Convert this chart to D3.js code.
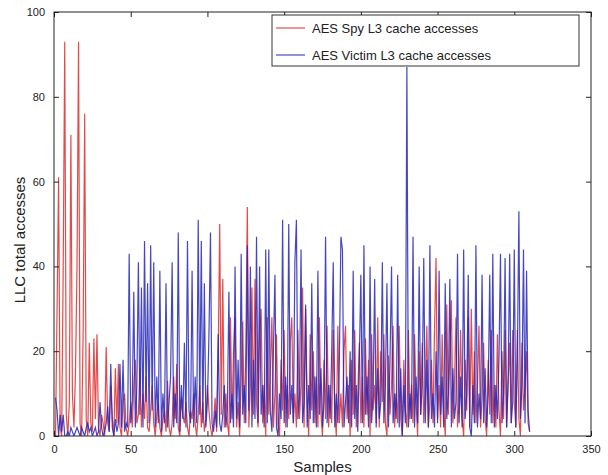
<!DOCTYPE html>
<html>
<head>
<meta charset="utf-8">
<script src="https://cdn.jsdelivr.net/npm/d3@7"></script>
<style>
  html, body { margin: 0; padding: 0; background: #fff; }
  svg { display: block; font-family: "Liberation Sans", Arial, Helvetica, sans-serif; }
</style>
</head>
<body>
<svg id="chart" width="608" height="475"></svg>
<script>
// ---- Data ----
const seriesNames = ["AES Spy L3 cache accesses", "AES Victim L3 cache accesses"];
const xTicks = [0, 50, 100, 150, 200, 250, 300, 350];
const yTicks = [0, 20, 40, 60, 80, 100];
const xLabel = "Samples";
const yLabel = "LLC total accesses";

const spyValues = [
  0,30,61,2,0,40,93,5,0,8,
  71,10,2,15,40,93,3,0,25,76,
  4,0,22,3,1,23,4,24,2,0,
  5,3,0,21,3,1,12,4,0,16,
  3,17,2,0,8,10,2,0,3,8,
  2,12,18,3,5,16,2,10,4,14,
  2,1,6,12,3,0,5,8,2,0,
  4,6,1,13,2,0,3,14,4,17,
  2,0,9,5,3,8,2,0,6,4,
  10,3,0,5,12,2,8,1,4,12,
  6,2,0,3,9,1,18,50,5,37,
  2,10,3,0,28,4,20,28,2,8,
  0,14,27,3,20,54,2,12,35,5,
  37,8,2,25,30,3,12,0,28,5,
  15,28,2,10,24,3,0,18,6,25,
  2,12,4,22,28,3,10,2,25,4,
  12,35,2,30,8,0,24,6,20,3,
  14,2,28,5,0,18,4,26,2,12,
  3,25,6,0,26,3,10,2,20,26,
  4,12,0,18,5,25,2,10,22,3,
  14,2,23,5,18,0,24,6,12,3,
  28,2,20,8,24,3,0,19,5,12,
  26,2,10,3,26,4,0,18,6,2,
  25,4,12,3,24,8,0,20,5,22,
  3,12,26,2,8,18,3,25,42,4,
  12,2,24,6,0,31,5,20,32,3,
  12,28,2,8,25,4,0,18,6,28,
  2,30,5,20,3,12,26,2,9,22,
  4,0,18,5,25,3,12,2,24,6,
  0,20,4,25,2,12,22,3,25,8,
  2,25,4,0,22,6,12,20,3,1
];

const victimValues = [
  9,6,0,5,1,5,0,0,1,0,
  2,1,0,1,2,1,0,2,1,0,
  2,3,1,2,0,1,2,0,1,8,
  2,0,1,3,7,1,17,2,0,4,
  1,3,17,2,18,1,3,2,43,3,
  8,34,2,12,41,5,35,2,46,8,
  36,3,45,6,41,2,14,3,39,1,
  10,3,36,2,8,14,41,2,10,3,
  48,1,12,4,22,2,46,6,3,39,
  2,14,3,51,5,46,3,36,2,8,
  24,48,3,1,6,2,24,3,1,5,
  12,2,6,34,3,10,2,40,4,18,
  2,43,5,12,3,45,6,40,2,18,
  4,47,3,40,5,12,2,44,3,44,
  6,1,20,38,2,0,10,4,51,3,
  14,2,50,5,12,3,41,51,4,10,
  44,3,8,31,2,12,4,36,3,14,
  2,39,5,16,2,8,47,3,12,4,
  20,41,2,10,3,18,47,44,2,8,
  14,3,20,2,39,4,12,1,18,38,
  3,45,5,14,2,40,3,10,37,2,
  16,4,8,41,3,12,36,2,18,40,
  3,10,4,38,2,16,0,12,3,87,
  2,10,4,47,2,14,3,40,5,12,
  42,3,18,2,45,4,10,2,20,3,
  39,5,14,2,36,4,10,37,2,16,
  4,8,43,3,14,2,44,4,10,38,
  2,0,12,3,45,2,10,4,38,3,
  16,2,10,38,3,43,2,12,4,18,
  43,3,10,42,2,14,43,3,8,44,
  2,18,53,4,12,44,3,39,6,1
];

const seriesColors = ["#e02a2a", "#2626b8"];

// ---- Layout ----
const svg = d3.select("#chart");
const mLeft = 54, mRight = 591, mTop = 12, mBottom = 436;

const x = d3.scaleLinear().domain([0, 350]).range([mLeft, mRight]);
const y = d3.scaleLinear().domain([0, 100]).range([mBottom, mTop]);

svg.append("rect").attr("x", 0).attr("y", 0).attr("width", 608).attr("height", 475).attr("fill", "#fff");

svg.append("clipPath").attr("id", "clip")
  .append("rect").attr("x", mLeft).attr("y", mTop).attr("width", mRight - mLeft).attr("height", mBottom - mTop);

const line = d3.line().x((d, i) => x(i + 1)).y(d => y(d));

const plot = svg.append("g").attr("clip-path", "url(#clip)");
[spyValues, victimValues].forEach((vals, k) => {
  plot.append("path")
    .datum(vals)
    .attr("fill", "none")
    .attr("stroke", seriesColors[k])
    .attr("stroke-width", 1.2)
    .attr("stroke-opacity", 0.85)
    .attr("stroke-linejoin", "miter")
    .attr("d", line);
});

// Axes (MATLAB style: box, inward ticks)
const tickLen = 5;
const axisColor = "#222";
const bottomAxis = d3.axisBottom(x).tickValues(xTicks).tickSizeInner(-tickLen).tickSizeOuter(0).tickPadding(9);
const topAxis = d3.axisTop(x).tickValues(xTicks).tickSizeInner(-tickLen).tickSizeOuter(0).tickFormat("");
const leftAxis = d3.axisLeft(y).tickValues(yTicks).tickSizeInner(-tickLen).tickSizeOuter(0).tickPadding(9);
const rightAxis = d3.axisRight(y).tickValues(yTicks).tickSizeInner(-tickLen).tickSizeOuter(0).tickFormat("");

function styleAxis(g) {
  g.select(".domain").remove();
  g.selectAll(".tick line").attr("stroke", axisColor);
  g.selectAll(".tick text").attr("fill", "#222").style("font-size", "11px")
    .style("font-family", "'Liberation Sans', Arial, sans-serif");
}
svg.append("g").attr("transform", `translate(0,${mBottom})`).call(bottomAxis).call(styleAxis);
svg.append("g").attr("transform", `translate(0,${mTop})`).call(topAxis).call(styleAxis);
svg.append("g").attr("transform", `translate(${mLeft},0)`).call(leftAxis).call(styleAxis);
svg.append("g").attr("transform", `translate(${mRight},0)`).call(rightAxis).call(styleAxis);

svg.append("rect")
  .attr("x", mLeft).attr("y", mTop).attr("width", mRight - mLeft).attr("height", mBottom - mTop)
  .attr("fill", "none").attr("stroke", axisColor).attr("stroke-width", 1);

// Axis labels
svg.append("text").attr("x", (mLeft + mRight) / 2).attr("y", 472)
  .attr("text-anchor", "middle").style("font-size", "15px").attr("fill", "#222").text(xLabel);
svg.append("text").attr("transform", `translate(25,${(mTop + mBottom) / 2 + 16}) rotate(-90)`)
  .attr("text-anchor", "middle").style("font-size", "15px").attr("fill", "#222").text(yLabel);

// Legend
const lg = svg.append("g");
lg.append("rect").attr("x", 272).attr("y", 15).attr("width", 307).attr("height", 51)
  .attr("fill", "#fff").attr("stroke", "#333").attr("stroke-width", 1);
seriesNames.forEach((name, i) => {
  const ly = 28 + i * 27;
  lg.append("line").attr("x1", 276).attr("x2", 305).attr("y1", ly).attr("y2", ly)
    .attr("stroke", seriesColors[i]).attr("stroke-width", 1);
  lg.append("text").attr("x", 312).attr("y", ly + 5)
    .style("font-size", "13px").attr("fill", "#222").text(name);
});
</script>
</body>
</html>
